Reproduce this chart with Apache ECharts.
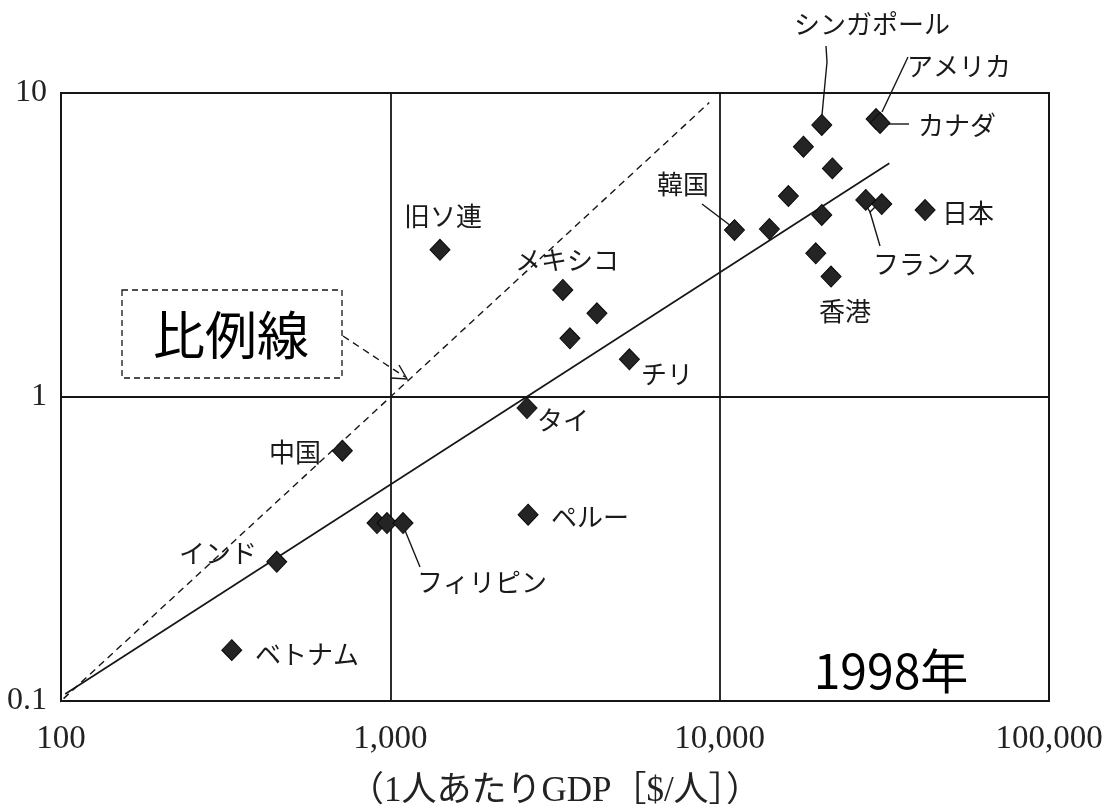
<!DOCTYPE html>
<html>
<head>
<meta charset="utf-8">
<title>1人あたりGDPとエネルギー消費（1998年）</title>
<script src="https://cdn.jsdelivr.net/npm/echarts@6/dist/echarts.min.js"></script>
<style>
  html, body { margin: 0; padding: 0; background: #ffffff; }
  #chart { width: 1111px; height: 809px; }
</style>
</head>
<body>
<div id="chart"></div>
<script>
// 1人あたりGDP [$/人] (x) と縦軸の値 (y)、1998年
const gdp = [330, 452, 715, 911, 977, 1093, 2600, 2620, 1415, 3340, 4240, 3510, 5320,
             11090, 14160, 16170, 17960, 21990, 20420, 19580, 21790, 27770, 31060, 42050,
             20420, 29850, 30690];
const perCapita = [0.147, 0.287, 0.666, 0.385, 0.385, 0.385, 0.92, 0.41, 3.05, 2.25, 1.885, 1.56, 1.33,
                   3.54, 3.57, 4.58, 6.66, 5.65, 3.97, 2.97, 2.49, 4.45, 4.31, 4.12,
                   7.85, 8.21, 7.97];

// 回帰直線の両端
const trendX = [103, 32750];
const trendY = [0.1054, 5.87];

// 比例線 (y = x / 1000)
const propX = [90, 9300];
const propY = [0.09, 9.3];

// 目盛ラベル
const xTickLabels = ['100', '1,000', '10,000', '100,000'];
const yTickLabels = ['0.1', '1', '10'];

// 国名ラベル
const countryLabels = ['シンガポール', 'アメリカ', 'カナダ', '韓国', '日本', 'フランス', '香港',
                       '旧ソ連', 'メキシコ', 'チリ', 'タイ', '中国', 'ペルー', 'インド', 'フィリピン', 'ベトナム'];
const yearLabel = '1998年';
const propLabel = '比例線';
const xAxisTitle = '（1人あたりGDP［$/人］）';

// ラベルの配置 (px)
const labelPos = {
  'シンガポール': [872, 24], 'アメリカ': [959, 66], 'カナダ': [957, 125], '韓国': [683, 184],
  '日本': [968, 213], 'フランス': [925, 264], '香港': [845, 311], '旧ソ連': [443, 216],
  'メキシコ': [567, 260], 'チリ': [667, 374], 'タイ': [563, 420], '中国': [295, 452],
  'ペルー': [590, 517], 'インド': [218, 553], 'フィリピン': [482, 582], 'ベトナム': [307, 654]
};

const INK = '#161616';
const CJK = '"Noto Sans CJK JP", "Noto Sans", sans-serif';
const SERIF = '"Liberation Serif", "DejaVu Serif", serif';

function pts(xs, ys) { return xs.map((x, i) => [x, ys[i]]); }

const graphics = [];
countryLabels.forEach(name => {
  const p = labelPos[name];
  graphics.push({
    type: 'text', x: p[0], y: p[1], silent: true,
    style: { text: name, fill: '#1a1a1a', font: '26px ' + CJK, align: 'center', verticalAlign: 'middle' }
  });
});
graphics.push({
  type: 'text', x: 891, y: 671, silent: true,
  style: { text: yearLabel, fill: '#000', font: '48px ' + CJK, align: 'center', verticalAlign: 'middle' }
});
graphics.push({
  type: 'text', x: 231, y: 335, silent: true,
  style: { text: propLabel, fill: '#000', font: '52px ' + CJK, align: 'center', verticalAlign: 'middle' }
});
// 比例線の枠と矢印
graphics.push({
  type: 'rect', silent: true,
  shape: { x: 122, y: 290, width: 220, height: 88 },
  style: { fill: 'none', stroke: INK, lineWidth: 1.3, lineDash: [6, 4] }
});
graphics.push({
  type: 'polyline', silent: true,
  shape: { points: [[343, 336], [405, 377]] },
  style: { stroke: INK, lineWidth: 1.4, lineDash: [7, 5], fill: 'none' }
});
graphics.push({
  type: 'polyline', silent: true,
  shape: { points: [[391, 378], [407, 379], [399, 365]] },
  style: { stroke: INK, lineWidth: 1.4, fill: 'none' }
});
// 引き出し線
const leaders = [
  [[826, 46], [827, 62], [822, 115]],          // シンガポール
  [[908, 57], [882, 112]],                     // アメリカ
  [[889, 124], [909, 124]],                    // カナダ
  [[702, 204], [731, 226]],                    // 韓国
  [[866, 205], [870, 212], [877, 205]],        // フランス (分岐)
  [[870, 212], [880, 246]],                    // フランス
  [[404, 528], [420, 567]]                     // フィリピン
];
leaders.forEach(p => graphics.push({
  type: 'polyline', silent: true, shape: { points: p },
  style: { stroke: INK, lineWidth: 1.4, fill: 'none' }
}));

const chart = echarts.init(document.getElementById('chart'), null, { renderer: 'canvas' });
chart.setOption({
  backgroundColor: '#ffffff',
  animation: false,
  grid: {
    left: 61, right: 62, top: 93, bottom: 108,
    show: true, borderColor: INK, borderWidth: 2, backgroundColor: 'transparent',
    outerBoundsMode: 'none'
  },
  xAxis: {
    type: 'log', logBase: 10, min: 100, max: 100000,
    axisLine: { show: true, lineStyle: { color: INK, width: 2 } },
    axisTick: { show: false },
    splitLine: { show: true, lineStyle: { color: INK, width: 1.8 } },
    axisLabel: {
      margin: 22, fontFamily: SERIF, fontSize: 33, color: '#222',
      formatter: (v, i) => xTickLabels[i] !== undefined ? xTickLabels[i] : ''
    },
    name: xAxisTitle, nameLocation: 'middle', nameGap: 73,
    nameTextStyle: { fontFamily: SERIF + ', ' + CJK, fontSize: 35, color: '#222' }
  },
  yAxis: {
    type: 'log', logBase: 10, min: 0.1, max: 10,
    axisLine: { show: true, lineStyle: { color: INK, width: 2 } },
    axisTick: { show: false },
    splitLine: { show: true, lineStyle: { color: INK, width: 1.8 } },
    axisLabel: {
      margin: 14, fontFamily: SERIF, fontSize: 32, color: '#222',
      formatter: (v, i) => yTickLabels[i] !== undefined ? yTickLabels[i] : ''
    }
  },
  series: [
    {
      type: 'line', data: pts(propX, propY), symbol: 'none', clip: false, silent: true,
      lineStyle: { color: INK, width: 1.4, type: [7, 5] }, z: 2
    },
    {
      type: 'line', data: pts(trendX, trendY), symbol: 'none', silent: true,
      lineStyle: { color: INK, width: 1.7 }, z: 2
    },
    {
      type: 'scatter', data: pts(gdp, perCapita), symbol: 'diamond', symbolSize: [20, 21],
      itemStyle: { color: '#242424', borderColor: '#0a0a0a', borderWidth: 1, opacity: 1 }, z: 3
    }
  ],
  graphic: graphics
});
</script>
</body>
</html>
